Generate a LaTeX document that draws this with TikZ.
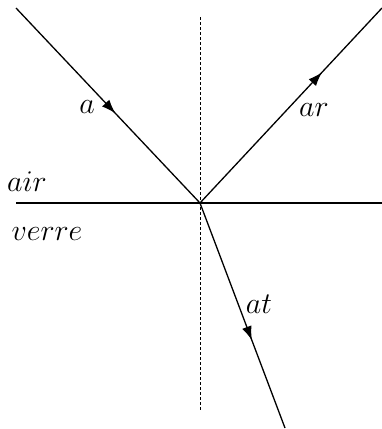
\documentclass[tikz,border=0pt]{standalone}
\usetikzlibrary{arrows.meta,decorations.markings}
\tikzset{
  ray/.style={line width=1.3pt},
  raytip/.style={postaction={decorate},decoration={markings,
    mark=at position #1 with {\arrow{Latex[length=14pt,width=10pt]}}}},
  lbl/.style={font=\huge}
}
\newcommand{\raylabel}[1]{\scalebox{1.45}{$#1$}}
\begin{document}
\begin{tikzpicture}[x=1pt,y=-1pt]
      \useasboundingbox (0,0) rectangle (382,429);
      \begin{scope}
        \coordinate (O) at (200,203);
        \coordinate (A) at (16,8);
        \coordinate (R) at (382,8);
        \coordinate (T) at (285,428);
        \coordinate (N1) at (200,17);
        \coordinate (N2) at (200,411);
        \coordinate (S1) at (16,203);
        \coordinate (S2) at (382,203);
        \draw[line width=0.7pt,dash pattern=on 3pt off 2pt] (N1) -- (N2);
        \draw[line width=2pt] (S1) -- (S2);
        \draw[ray,raytip=0.54] (A) -- (O);
        \draw[ray,raytip=0.67] (O) -- (R);
        \draw[ray,raytip=0.61] (O) -- (T);
        \node[lbl] (la) at (87,107) {\raylabel{a}};
        \node[lbl] (lar) at (314,110) {\raylabel{ar}};
        \node[lbl] (lat) at (259,304) {\raylabel{at}};
        \node[lbl] (lair) at (27,182) {\raylabel{air}};
        \node[lbl] (lverre) at (47,234) {\raylabel{verre}};
      \end{scope}
  \end{tikzpicture}
\end{document}
